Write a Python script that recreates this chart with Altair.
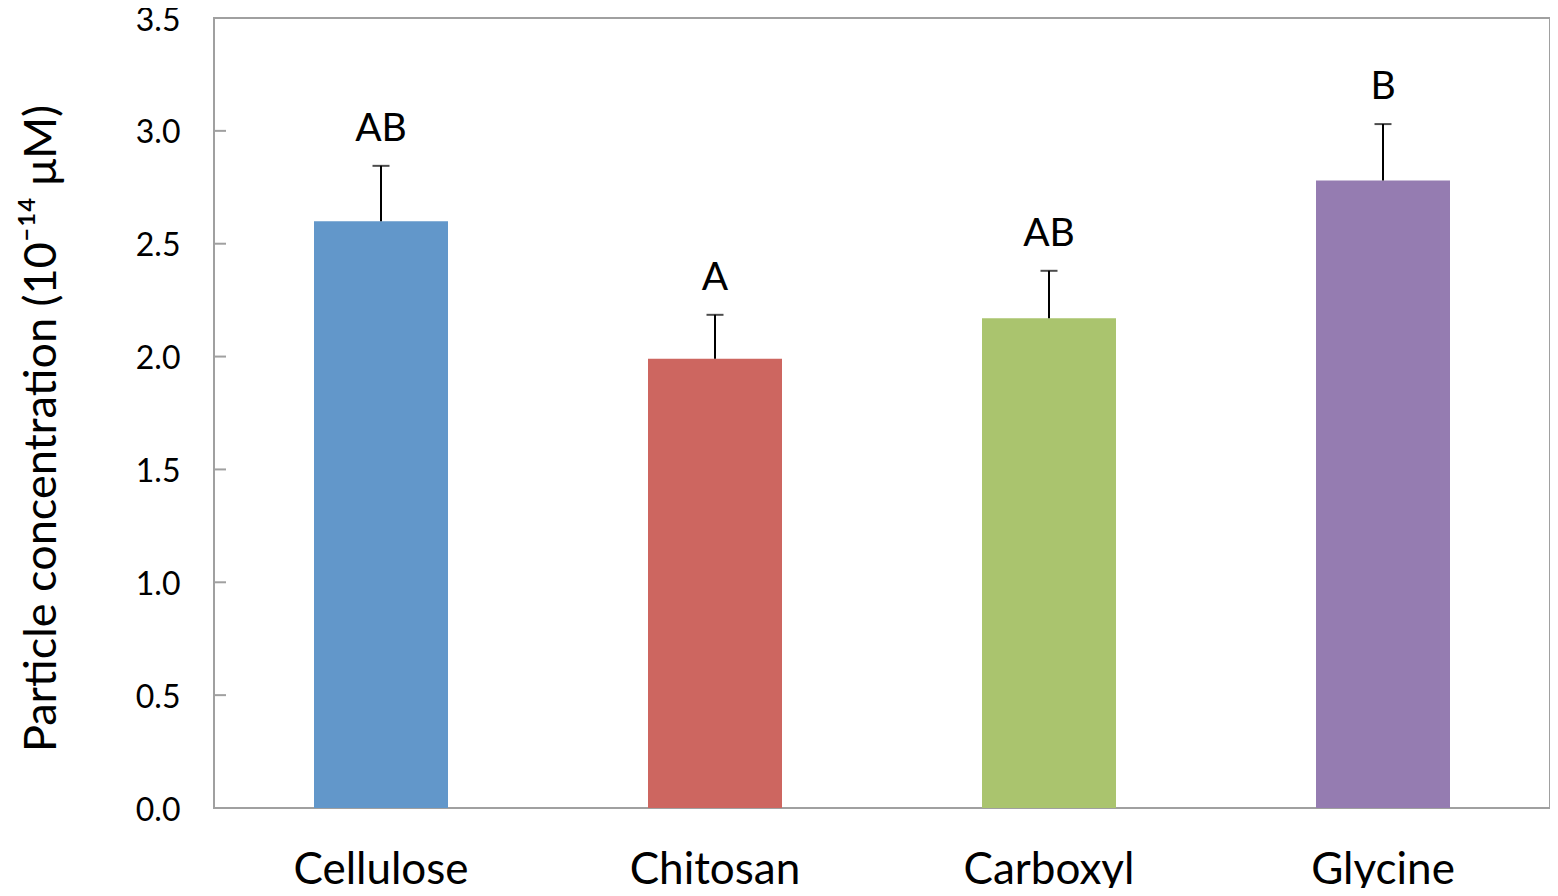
import altair as alt
import pandas as pd

categories = ["Cellulose", "Chitosan", "Carboxyl", "Glycine"]
means = [2.60, 1.99, 2.17, 2.78]
sd = [0.245, 0.195, 0.21, 0.25]
letters = ["AB", "A", "AB", "B"]
colors = ["#6297CA", "#CD6660", "#AAC46E", "#957CB1"]
tick_vals = [0.5, 1.0, 1.5, 2.0, 2.5, 3.0]

FONT = "Lato"

df = pd.DataFrame({"cat": categories, "mean": means, "sd": sd, "letter": letters})
df["upper"] = df["mean"] + df["sd"]
ticks = pd.DataFrame({"t": tick_vals})

x = alt.X("cat:N", sort=categories,
          scale=alt.Scale(paddingInner=0, paddingOuter=0),
          axis=alt.Axis(title=None, labelAngle=0, labelFontSize=44, labelFont=FONT,
                        labelColor="black", ticks=False, domain=False,
                        labelPadding=62, labelBaseline="middle"))
yscale = alt.Scale(domain=[0, 3.5], nice=False, zero=True)
y = alt.Y("mean:Q", scale=yscale,
          axis=alt.Axis(title="Particle concentration (10⁻¹⁴ μM)", values=[0, 0.5, 1, 1.5, 2, 2.5, 3, 3.5],
                        format=".1f", grid=False, ticks=False, domain=False,
                        labelFontSize=32, labelFont=FONT, labelColor="black", labelPadding=34,
                        labelOffset=2,
                        titleFont=FONT, titleFontSize=45, titleFontWeight="normal", titleColor="black",
                        titleX=-173, titleY=410, titleAngle=-90, titleAlign="center",
                        titleBaseline="middle"))

bars = alt.Chart(df).mark_bar(width=134).encode(
    x=x, y=y,
    color=alt.Color("cat:N", sort=categories, scale=alt.Scale(domain=categories, range=colors), legend=None),
)

stem = alt.Chart(df).mark_rule(color="black", strokeWidth=2).encode(
    x=alt.X("cat:N", sort=categories), y=alt.Y("mean:Q", scale=yscale), y2="upper:Q"
)
cap = alt.Chart(df).mark_tick(color="black", thickness=2, size=17, orient="horizontal").encode(
    x=alt.X("cat:N", sort=categories), y=alt.Y("upper:Q", scale=yscale)
)
labels = alt.Chart(df).mark_text(font=FONT, fontSize=39, baseline="bottom", dy=-17, color="black").encode(
    x=alt.X("cat:N", sort=categories), y=alt.Y("upper:Q", scale=yscale), text="letter:N"
)
yt = alt.Chart(ticks).mark_rule(color="#A0A0A0", strokeWidth=2).encode(
    y=alt.Y("t:Q", scale=yscale), x=alt.value(0), x2=alt.value(12)
)

chart = alt.layer(bars, stem, cap, labels, yt).properties(
    width=1336, height=790,
    autosize=alt.AutoSizeParams(type="none"),
    padding={"left": 206, "top": 10, "right": 0, "bottom": 80},
    background="white",
).configure_view(stroke="#A0A0A0", strokeWidth=2)

chart.save("out.html", embed_options={"renderer": "svg", "actions": False})
